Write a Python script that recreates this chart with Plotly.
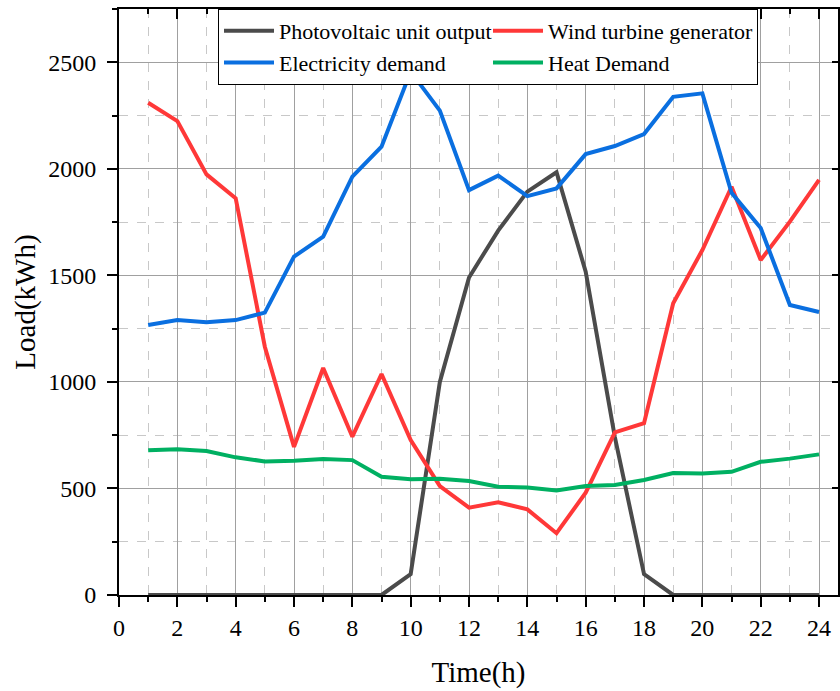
import plotly.graph_objects as go

hours = list(range(1, 25))
pv_output = [0, 0, 0, 0, 0, 0, 0, 0, 0, 98, 1000, 1490, 1710, 1893, 1984, 1517,
             741, 98, 0, 0, 0, 0, 0, 0]
wind_gen = [2310, 2224, 1974, 1862, 1165, 695, 1065, 743, 1037, 727, 511, 410,
            435, 402, 290, 480, 763, 806, 1369, 1619, 1916, 1572, 1752, 1948]
elec_demand = [1267, 1290, 1280, 1290, 1325, 1588, 1682, 1963, 2104, 2456, 2273, 1900,
               1968, 1872, 1908, 2069, 2107, 2163, 2338, 2354, 1887, 1722, 1361, 1328]
heat_demand = [679, 684, 676, 646, 627, 630, 638, 633, 555, 543, 546, 535,
               508, 504, 490, 511, 516, 540, 572, 570, 578, 625, 640, 660]

names = ["Photovoltaic unit output", "Wind turbine generator",
         "Electricity demand", "Heat Demand"]
colors = ["#4b4b4b", "#ff3838", "#0a6fe0", "#00b062"]
series = [pv_output, wind_gen, elec_demand, heat_demand]

FONT = "Liberation Serif, Times New Roman, serif"
X_RANGE = [0, 24.65]
Y_RANGE = [0, 2750]

fig = go.Figure()
for name, col, vals in zip(names, colors, series):
    fig.add_trace(go.Scatter(x=hours, y=vals, mode="lines", name=name,
                             line=dict(color=col, width=4)))
# empty trace to activate mirrored top/right axes
fig.add_trace(go.Scatter(x=[], y=[], xaxis="x2", yaxis="y2", showlegend=False,
                         hoverinfo="skip"))

grid_major = "#a0a0a0"
grid_minor = "#c8c8c8"

fig.update_layout(
    width=840, height=691,
    margin=dict(l=119, r=2, t=9, b=96),
    paper_bgcolor="white", plot_bgcolor="white",
    font=dict(family=FONT, color="black"),
    xaxis=dict(
        range=X_RANGE, tick0=0, dtick=2, showline=True, linecolor="black", linewidth=2,
        ticks="outside", ticklen=10, tickwidth=2, tickcolor="black",
        tickfont=dict(size=24, family=FONT), zeroline=False,
        showgrid=True, gridcolor=grid_major, gridwidth=1.2,
        minor=dict(dtick=1, tick0=0, ticks="outside", ticklen=5, tickwidth=2,
                   tickcolor="black", showgrid=True, gridcolor=grid_minor,
                   griddash="dash", gridwidth=1),
        title=dict(text="Time(h)", font=dict(size=29, family=FONT), standoff=22),
    ),
    yaxis=dict(
        range=Y_RANGE, tick0=0, dtick=500, showline=True, linecolor="black", linewidth=2,
        ticks="outside", ticklen=10, tickwidth=2, tickcolor="black",
        tickfont=dict(size=24, family=FONT), zeroline=False,
        showgrid=True, gridcolor=grid_major, gridwidth=1.2,
        ticklabelstandoff=6,
        minor=dict(dtick=250, tick0=0, ticks="outside", ticklen=5, tickwidth=2,
                   tickcolor="black", showgrid=True, gridcolor=grid_minor,
                   griddash="dash", gridwidth=1),
        title=dict(text="Load(kWh)", font=dict(size=29, family=FONT), standoff=4),
    ),
    xaxis2=dict(
        range=X_RANGE, tick0=0, dtick=2, overlaying="x", side="top", anchor="y",
        showline=True, linecolor="black", linewidth=2, showticklabels=False,
        ticks="inside", ticklen=10, tickwidth=2, tickcolor="black",
        showgrid=False, zeroline=False,
        minor=dict(dtick=1, tick0=0, ticks="inside", ticklen=5, tickwidth=2,
                   tickcolor="black", showgrid=False),
    ),
    yaxis2=dict(
        range=Y_RANGE, tick0=0, dtick=500, overlaying="y", side="right", anchor="x",
        showline=True, linecolor="black", linewidth=2, showticklabels=False,
        ticks="inside", ticklen=6, tickwidth=2, tickcolor="black",
        showgrid=False, zeroline=False,
    ),
    legend=dict(
        orientation="h", x=0.1377, y=1.0, xanchor="left", yanchor="top",
        bgcolor="white", bordercolor="black", borderwidth=1,
        font=dict(size=22, family=FONT, color="black"),
        entrywidth=204, itemwidth=50, tracegroupgap=0,
    ),
    showlegend=True,
)

fig.write_html("out.html")
